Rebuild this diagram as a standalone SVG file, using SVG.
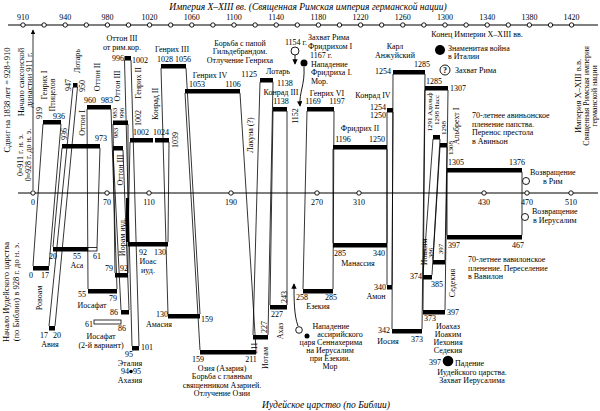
<svg xmlns="http://www.w3.org/2000/svg" width="600" height="411" viewBox="0 0 600 411">
<style>
text{font-family:"Liberation Serif","Times New Roman",serif;font-size:8px;fill:#000}
.it{font-style:italic;font-size:9.5px}
.m{text-anchor:middle}
.e{text-anchor:end}
.sm{font-size:7px}
.ax{stroke:#000;stroke-width:1.2;fill:none}
.tk{fill:#fff;stroke:#000;stroke-width:0.9}
.b{fill:#000}
.h{fill:#fff;stroke:#000;stroke-width:0.8}
.c line,.c path{stroke:#000;stroke-width:0.8;fill:none}
.ev{stroke:#000;stroke-width:0.9;fill:none}
</style>
<defs>
<marker id="ar" viewBox="0 0 8 8" refX="7" refY="4" markerWidth="6" markerHeight="6" orient="auto"><path d="M0,0 L8,4 L0,8 z" fill="#000"/></marker>
</defs>
<rect width="600" height="411" fill="#fff"/>

<g id="titles">
<text class="it m" x="308" y="10">Империя X–XIII вв. (Священная Римская империя германской нации)</text>
<text class="it m" x="326" y="408">Иудейское царство (по Библии)</text>
<text transform="translate(10,100) rotate(-90)" class="m" style="font-size:8.5px">Сдвиг на 1838 лет = 928+910</text>
<text transform="translate(24,82) rotate(-90)" class="m" style="font-size:8.5px">Начало саксонской</text>
<text transform="translate(32,80) rotate(-90)" class="m" style="font-size:8.5px">династии 911 г.</text>
<text transform="translate(23,155) rotate(-90)" class="m">0≈911 г. н. э.</text>
<text transform="translate(31,155) rotate(-90)" class="m">0≈928 г. до н. э.</text>
<text transform="translate(9,292) rotate(-90)" class="m" style="font-size:8.5px">Начало Иудейского царства</text>
<text transform="translate(19,292) rotate(-90)" class="m" style="font-size:8.5px">(по Библии) в 928 г. до н. э.</text>
<text transform="translate(581,96) rotate(-90)" class="m" style="font-size:8.5px">Империя X–XIII в.в.</text>
<text transform="translate(589,96) rotate(-90)" class="m">Священная Римская империя</text>
<text transform="translate(597,96) rotate(-90)" class="m">германской нации</text>
</g>

<g id="axis-top">
<line class="ax" x1="8" y1="25" x2="598" y2="25"/>
<circle class="tk" cx="23" cy="25" r="2.2"/><circle class="tk" cx="44.1" cy="25" r="2.2"/><circle class="tk" cx="65.2" cy="25" r="2.2"/><circle class="tk" cx="86.3" cy="25" r="2.2"/><circle class="tk" cx="107.4" cy="25" r="2.2"/><circle class="tk" cx="128.5" cy="25" r="2.2"/><circle class="tk" cx="149.6" cy="25" r="2.2"/><circle class="tk" cx="170.7" cy="25" r="2.2"/><circle class="tk" cx="191.8" cy="25" r="2.2"/><circle class="tk" cx="212.9" cy="25" r="2.2"/><circle class="tk" cx="234" cy="25" r="2.2"/><circle class="tk" cx="255.1" cy="25" r="2.2"/><circle class="tk" cx="276.2" cy="25" r="2.2"/><circle class="tk" cx="297.3" cy="25" r="2.2"/><circle class="tk" cx="318.4" cy="25" r="2.2"/><circle class="tk" cx="339.5" cy="25" r="2.2"/><circle class="tk" cx="360.6" cy="25" r="2.2"/><circle class="tk" cx="381.7" cy="25" r="2.2"/><circle class="tk" cx="402.8" cy="25" r="2.2"/><circle class="tk" cx="423.9" cy="25" r="2.2"/><circle class="tk" cx="445" cy="25" r="2.2"/><circle class="tk" cx="466.1" cy="25" r="2.2"/><circle class="tk" cx="487.2" cy="25" r="2.2"/><circle class="tk" cx="508.3" cy="25" r="2.2"/><circle class="tk" cx="529.4" cy="25" r="2.2"/><circle class="tk" cx="550.5" cy="25" r="2.2"/><circle class="tk" cx="571.6" cy="25" r="2.2"/>
<g style="font-size:8.5px"><text class="m" x="23" y="20">910</text><text class="m" x="65.2" y="20">940</text><text class="m" x="107.4" y="20">980</text><text class="m" x="149.6" y="20">1020</text><text class="m" x="191.8" y="20">1060</text><text class="m" x="234" y="20">1100</text><text class="m" x="276.2" y="20">1140</text><text class="m" x="318.4" y="20">1180</text><text class="m" x="360.6" y="20">1220</text><text class="m" x="402.8" y="20">1260</text><text class="m" x="445" y="20">1300</text><text class="m" x="487.2" y="20">1340</text><text class="m" x="529.4" y="20">1380</text><text class="m" x="571.6" y="20">1420</text></g>
</g>

<g id="axis-mid">
<line class="ax" x1="18" y1="193" x2="598" y2="193"/>
<circle class="tk" cx="33" cy="193" r="2.2"/><circle class="tk" cx="107" cy="193" r="2.2"/><circle class="tk" cx="149" cy="193" r="2.2"/><circle class="tk" cx="231" cy="193" r="2.2"/><circle class="tk" cx="317" cy="193" r="2.2"/><circle class="tk" cx="359" cy="193" r="2.2"/><circle class="tk" cx="484" cy="193" r="2.2"/><circle class="tk" cx="527" cy="193" r="2.2"/><circle class="tk" cx="571" cy="193" r="2.2"/>
<g style="font-size:8.5px"><text class="m" x="33" y="205">0</text><text class="m" x="107" y="205">70</text><text class="m" x="149" y="205">110</text><text class="m" x="231" y="205">190</text><text class="m" x="317" y="205">270</text><text class="m" x="359" y="205">310</text><text class="m" x="484" y="205">430</text><text class="m" x="527" y="205">470</text><text class="m" x="571" y="205">510</text></g>
</g>

<g id="connectors" class="c">
<line x1="33" y1="190" x2="33" y2="30" marker-end="url(#ar)"/>
<line x1="43" y1="124" x2="33" y2="266"/><line x1="61" y1="124" x2="49" y2="266"/>
<line x1="73" y1="87" x2="49" y2="326"/><line x1="77.5" y1="87" x2="55" y2="326"/>
<line x1="62" y1="148" x2="53" y2="247"/><line x1="100" y1="148" x2="97" y2="247"/>
<line x1="87" y1="109" x2="88" y2="289"/><line x1="111" y1="109" x2="117" y2="289"/>
<line x1="113" y1="124" x2="115" y2="273"/><line x1="128" y1="124" x2="128" y2="273"/>
<line x1="113" y1="150" x2="121" y2="310"/><line x1="123" y1="150" x2="129" y2="310"/>
<line x1="124.5" y1="60" x2="132" y2="346"/><line x1="131" y1="60" x2="139" y2="346"/>
<line x1="130" y1="142" x2="128" y2="242"/><line x1="169" y1="142" x2="168" y2="242"/>
<line x1="161" y1="68" x2="168" y2="314"/><line x1="186" y1="68" x2="200" y2="314"/>
<line x1="185" y1="93" x2="200" y2="350"/><line x1="240" y1="93" x2="256" y2="350"/>
<line x1="260" y1="82" x2="253" y2="335"/><line x1="273" y1="82" x2="268" y2="335"/>
<line x1="273" y1="111" x2="270" y2="305"/><line x1="287" y1="111" x2="287" y2="305"/>
<line x1="307" y1="111" x2="303" y2="289"/><line x1="334" y1="111" x2="333" y2="289"/>
<line x1="333" y1="149" x2="333" y2="243"/><line x1="387" y1="149" x2="387" y2="243"/>
<line x1="387" y1="112" x2="387" y2="285"/><line x1="393" y1="112" x2="392" y2="285"/>
<line x1="393" y1="74" x2="392" y2="329"/><line x1="425" y1="74" x2="422" y2="329"/>
<line x1="425" y1="90" x2="423" y2="310"/><line x1="448" y1="90" x2="445" y2="310"/>
<line x1="433" y1="139" x2="423" y2="275"/><line x1="440" y1="139" x2="432" y2="275"/>
<line x1="440" y1="147" x2="433" y2="260"/><line x1="447" y1="147" x2="445" y2="260"/>
<line x1="447" y1="172" x2="447" y2="235"/><line x1="522" y1="172" x2="522" y2="235"/>
</g>

<g id="genrikh1"><rect class="b" x="43" y="120" width="18" height="4.5"/>
<text transform="translate(47,85) rotate(-90)" class="m">Генрих I</text>
<text transform="translate(55,95) rotate(-90)" class="m">Птицелов</text>
<text transform="translate(42,113) rotate(-90)" class="m">919</text>
<text class="m" x="59" y="119">936</text></g>

<g id="lotar1"><rect class="b" x="73" y="83" width="4.5" height="4.5"/>
<text transform="translate(71,85) rotate(-90)" class="m">947</text>
<text transform="translate(80,61) rotate(-90)" class="m">Лотарь</text>
<text transform="translate(85,86) rotate(-90)" class="m">950</text></g>

<g id="otton1"><rect class="b" x="62" y="144" width="38" height="4.5"/>
<text transform="translate(67,134) rotate(-90)" class="m">936</text>
<text transform="translate(85,123) rotate(-90)" class="m">Оттон I</text>
<text class="m" x="101" y="141">973</text></g>

<g id="otton2"><rect class="b" x="87" y="105" width="24" height="4.5"/>
<text class="m" x="90" y="103">960</text><text class="m" x="107" y="103">983</text>
<text transform="translate(100,77) rotate(-90)" class="m">Оттон II</text></g>

<g id="otton3"><rect class="b" x="113" y="120.5" width="15" height="4.5"/>
<text transform="translate(120,86) rotate(-90)" class="m">Оттон III</text>
<text transform="translate(117,113) rotate(-90)" class="m sm">983</text>
<text transform="translate(124,113) rotate(-90)" class="m sm">996</text>
<text transform="translate(118,133) rotate(-90)" class="m sm">983</text></g>

<g id="otton3b"><rect class="b" x="113" y="146" width="10" height="4.5"/>
<text transform="translate(123,170) rotate(-90)" class="m">Оттон III</text></g>

<g id="otton3-rim"><rect class="b" x="124.5" y="56" width="6.5" height="4.5"/>
<text class="m" x="122" y="41">Оттон III</text>
<text class="m" x="122" y="50">от рим.кор.</text>
<text class="e" x="124" y="61">996</text><text x="132" y="63">1002</text></g>

<g id="genrikh2"><rect class="b" x="130" y="138" width="23" height="4.5"/>
<text transform="translate(141,83) rotate(-90)" class="m">Генрих II</text>
<text transform="translate(141,118) rotate(-90)" class="m">1002</text>
<text class="m" x="141" y="135">1002</text></g>

<g id="konrad2"><rect class="b" x="155" y="138" width="14" height="4.5"/>
<text transform="translate(158,104) rotate(-90)" class="m">Конрад II</text>
<text class="m" x="161" y="135">1024</text>
<text transform="translate(178,140) rotate(-90)" class="m">1039</text></g>

<g id="genrikh3"><rect class="b" x="161" y="64" width="25" height="4.5"/>
<text class="m" x="172" y="52">Генрих III</text>
<text class="m" x="165" y="62">1028</text><text class="m" x="183" y="62">1056</text></g>

<g id="genrikh4"><rect class="b" x="185" y="89" width="55" height="4.5"/>
<text class="m" x="210" y="78">Генрих IV</text>
<text class="m" x="197" y="87">1053</text><text class="m" x="233" y="87">1106</text></g>

<g id="lakuna"><text transform="translate(253,135) rotate(-90)" class="m">Лакуна (?)</text></g>

<g id="lotar2"><rect class="b" x="260" y="78" width="13" height="4.5"/>
<text class="e" x="257" y="77">1125</text>
<text class="m" x="278" y="74">Лотарь</text>
<text x="277" y="86">1138</text></g>

<g id="konrad3"><rect class="b" x="273" y="107" width="14" height="4.5"/>
<text class="m" x="281" y="95">Конрад III</text>
<text class="m" x="281" y="104">1138</text>
<text transform="translate(298,116) rotate(-90)" class="m">1152</text></g>

<g id="genrikh6"><rect class="b" x="307" y="107" width="27" height="4.5"/>
<text class="m" x="327" y="96">Генрих VI</text>
<text class="m" x="313" y="104">1169</text><text class="m" x="337" y="104">1197</text></g>

<g id="fridrikh2"><rect class="b" x="333" y="145" width="54" height="4.5"/>
<text class="m" x="360" y="131">Фридрих II</text>
<text class="m" x="343" y="142">1196</text><text class="m" x="377" y="142">1250</text></g>

<g id="konrad4"><rect class="b" x="387" y="108" width="6" height="4.5"/>
<text class="m" x="373" y="98">Конрад IV</text>
<text class="e" x="386" y="110">1254</text><text class="e" x="386" y="118">1250</text></g>

<g id="karl"><rect class="b" x="393" y="70" width="32" height="4.5"/>
<text class="m" x="395" y="49">Карл</text><text class="m" x="395" y="58">Анжуйский</text>
<text class="e" x="391" y="74">1254</text><text class="m" x="422" y="67">1285</text></g>

<g id="r1285"><rect class="b" x="425" y="86" width="23" height="4.5"/>
<text x="426" y="84">1285</text><text x="450" y="91">1307</text></g>

<g id="adolf"><rect class="b" x="433" y="135" width="7" height="4.5"/>
<text transform="translate(432,112) rotate(-90)" class="m sm">1291 Адольф</text>
<text transform="translate(439,110) rotate(-90)" class="m sm">1298 Насс</text></g>

<g id="albrecht"><rect class="b" x="440" y="143" width="7" height="4.5"/>
<text transform="translate(446,128) rotate(-90)" class="m sm">1298</text>
<text transform="translate(453,148) rotate(-90)" class="m sm">1308</text>
<text transform="translate(459,126) rotate(-90)" class="m">Альбрехт I</text></g>

<g id="avignon"><rect class="b" x="447" y="168" width="75" height="4.5"/>
<text class="m" x="456" y="165">1305</text><text class="m" x="517" y="165">1376</text>
<text x="472" y="118">70-летнее авиньонское</text>
<text x="472" y="126.5">пленение папства.</text>
<text x="472" y="135">Перенос престола</text>
<text x="472" y="143.5">в Авиньон</text></g>

<g id="rovoam"><rect class="b" x="33" y="266" width="16" height="4.5"/>
<text class="m" x="31" y="278">0</text><text class="m" x="45" y="278">17</text>
<text transform="translate(42,298) rotate(-90)" class="m">Ровоам</text></g>

<g id="aviya"><rect class="b" x="49" y="326" width="6" height="4.5"/>
<text class="m" x="44" y="338">17</text><text class="m" x="57" y="338">20</text>
<text class="m" x="50" y="347">Авия</text></g>

<g id="asa"><rect class="b" x="53" y="247" width="35" height="4.5"/><rect class="h" x="88" y="247.5" width="9" height="3.5"/>
<text class="m" x="53" y="259">20</text><text class="m" x="77" y="259">55</text><text class="m" x="97" y="259">61</text>
<text class="m" x="77" y="268">Аса</text></g>

<g id="iosafat"><rect class="b" x="88" y="289" width="29" height="4.5"/>
<text class="m" x="82" y="297">55</text><text class="m" x="113" y="301">79</text>
<text class="m" x="92" y="308">Иосафат</text></g>

<g id="ioram"><rect class="b" x="115" y="273" width="13" height="4.5"/><rect class="b" x="126" y="198" width="3" height="44"/>
<text class="m" x="109" y="271">79</text><text class="m" x="124" y="271">92</text>
<text transform="translate(125,237) rotate(-90)" class="m">Иорам иуд.</text></g>

<g id="r86"><rect class="b" x="121" y="310" width="8" height="4.5"/>
<text class="m" x="114" y="315">86</text></g>

<g id="iosafat2"><rect class="h" x="94" y="320" width="27" height="4"/>
<text class="m" x="89" y="327">61</text><text class="m" x="122" y="331">86</text>
<text class="m" x="101" y="339">Иосафат</text><text class="m" x="101" y="347.5">(2-й вариант)</text></g>

<g id="etaliya"><rect class="b" x="132" y="346" width="7" height="4.5"/>
<text class="m" x="129" y="357">95</text><text x="141" y="350">101</text>
<text class="m" x="130" y="365.5">Эталия</text>
<text class="e" x="129" y="374">94</text><circle cx="131" cy="371.5" r="1.8" class="b"/><text x="133" y="374">95</text>
<text class="m" x="130" y="382.5">Ахазия</text></g>

<g id="ioas"><rect class="b" x="128" y="242" width="40" height="4.5"/>
<text class="m" x="143" y="255">92</text><text class="m" x="160" y="255">130</text>
<text class="m" x="148" y="264">Иоас</text><text class="m" x="148" y="272.5">иуд.</text></g>

<g id="amasiya"><rect class="b" x="168" y="314" width="32" height="4.5"/>
<text class="e" x="168" y="317">130</text><text class="m" x="159" y="327">Амасия</text>
<text x="201" y="322">159</text></g>

<g id="oziya"><rect class="b" x="200" y="350" width="56" height="4.5"/>
<text class="m" x="198" y="362">159</text><text class="m" x="251" y="362">211</text>
<text class="m" x="222" y="370.5">Озия (Азария)</text>
<text class="m" x="222" y="379">Борьба с главным</text>
<text class="m" x="222" y="387.5">священником Азарией.</text>
<text class="m" x="222" y="396">Отлучение Озии</text></g>

<g id="iotam"><rect class="b" x="253" y="335" width="15" height="4.5"/>
<text transform="translate(267,327) rotate(-90)" class="m">227</text>
<text transform="translate(257,348) rotate(-90)" class="m">211</text>
<text transform="translate(268,358) rotate(-90)" class="m">Иотам</text></g>

<g id="akhaz"><rect class="b" x="270" y="305" width="17" height="4.5"/>
<text x="271" y="317">227</text>
<text transform="translate(287,297) rotate(-90)" class="m">243</text>
<text transform="translate(283,331) rotate(-90)" class="m">Ахаз</text></g>

<g id="ezekiya"><rect class="b" x="303" y="289" width="30" height="4.5"/>
<text class="m" x="302" y="300">258</text><text class="m" x="331" y="300">285</text>
<text class="m" x="318" y="308.5">Езекия</text></g>

<g id="manassiya"><rect class="b" x="333" y="243" width="54" height="4.5"/>
<text class="m" x="340" y="256">285</text><text class="m" x="379" y="256">340</text>
<text class="m" x="358" y="266">Манассия</text></g>

<g id="amon"><rect class="b" x="387" y="285" width="5" height="4.5"/>
<text class="e" x="386" y="290">340</text><text class="m" x="376" y="298.5">Амон</text></g>

<g id="iosiya"><rect class="b" x="392" y="329" width="30" height="4.5"/>
<text class="e" x="390" y="333">342</text><text class="m" x="417" y="342">373</text>
<text class="m" x="388" y="344">Иосия</text></g>

<g id="ioakhaz"><rect class="b" x="423" y="310" width="22" height="4.5"/>
<text x="424" y="321">373</text><text x="447" y="315">397</text>
<text class="m" x="448" y="329">Иоахаз</text><text class="m" x="448" y="337">Иоаким</text>
<text class="m" x="448" y="345">Иехония</text><text class="m" x="448" y="353">Седекия</text></g>

<g id="r374"><rect class="b" x="423" y="275" width="9" height="4.5"/>
<text class="e" x="422" y="279">374</text><text class="m" x="437" y="287">385</text>
<text transform="translate(455,283) rotate(-90)" class="m">Седекия</text></g>

<g id="r386"><rect class="b" x="433" y="260" width="12" height="4.5"/>
<text transform="translate(427,252) rotate(-90)" class="m">Иоаким</text>
<text transform="translate(433,253) rotate(-90)" class="m sm">386</text>
<text transform="translate(443,249) rotate(-90)" class="m sm">397</text></g>

<g id="babylon"><rect class="b" x="447" y="235" width="75" height="4.5"/>
<text class="m" x="454" y="248">397</text><text class="m" x="518" y="248">467</text>
<text x="468" y="262">70-летнее вавилонское</text>
<text x="468" y="270.5">пленение. Переселение</text>
<text x="468" y="279">в Вавилон</text></g>

<g id="ev-return-rome"><circle class="tk" cx="526" cy="181" r="3.5"/>
<text x="530" y="175">Возвращение</text><text x="543" y="183.5">в Рим</text></g>

<g id="ev-return-jer"><circle class="tk" cx="525" cy="217" r="3.5"/>
<text x="532" y="214">Возвращение</text><text x="533" y="222.5">в Иерусалим</text></g>

<g id="ev-end"><text class="m" x="477" y="37">Конец Империи X–XIII вв.</text></g>

<g id="ev-war"><circle class="b" cx="440" cy="50" r="5"/>
<text x="448" y="51">Знаменитая война</text><text x="448" y="59">в Италии</text></g>

<g id="ev-rome"><circle class="tk" cx="445" cy="70" r="5"/>
<text class="m" x="445" y="73" style="font-weight:bold">?</text>
<text x="455" y="73">Захват Рима</text></g>

<g id="ev-1154"><text class="e" x="307" y="45">1154 г.</text>
<circle class="tk" cx="295" cy="51" r="4"/>
<line class="ev" x1="295" y1="55" x2="295" y2="64" marker-end="url(#ar)"/>
<text x="308" y="40">Захват Рима</text><text x="308" y="48.5">Фридрихом I</text></g>

<g id="ev-1167"><circle class="b" cx="304" cy="63" r="3.5"/>
<text x="310" y="58">1167 г.</text><text x="311" y="66.5">Нападение</text>
<text x="311" y="75">Фридриха I.</text><text x="311" y="83.5">Мор.</text>
<path class="ev" d="M304,67 C305,85 299,92 300,106" marker-end="url(#ar)"/></g>

<g id="ev-gildebrand"><text class="m" x="240" y="45.5">Борьба с папой</text>
<text class="m" x="240" y="54">Гильдебрандом.</text>
<text class="m" x="240" y="62.5">Отлучение Генриха</text></g>

<g id="ev-assyria"><circle class="tk" cx="299" cy="330" r="3.3"/><circle class="b" cx="307" cy="336" r="2.5"/>
<path class="ev" d="M298,326 C294,315 294,300 294,284" marker-end="url(#ar)"/>
<text class="m" x="331" y="329">Нападение</text>
<text class="m" x="340" y="337">ассирийского</text>
<text class="m" x="331" y="345">царя Сеннахерима</text>
<text class="m" x="330" y="353">на Иерусалим</text>
<text class="m" x="330" y="361">при Езекии.</text>
<text class="m" x="330" y="369">Мор</text></g>

<g id="ev-fall"><text class="e" x="441" y="365">397</text><circle class="b" cx="448" cy="361" r="5.3"/>
<text x="455" y="366">Падение</text>
<text class="m" x="472" y="374.5">Иудейского царства.</text>
<text class="m" x="472" y="383">Захват Иерусалима</text></g>
</svg>
